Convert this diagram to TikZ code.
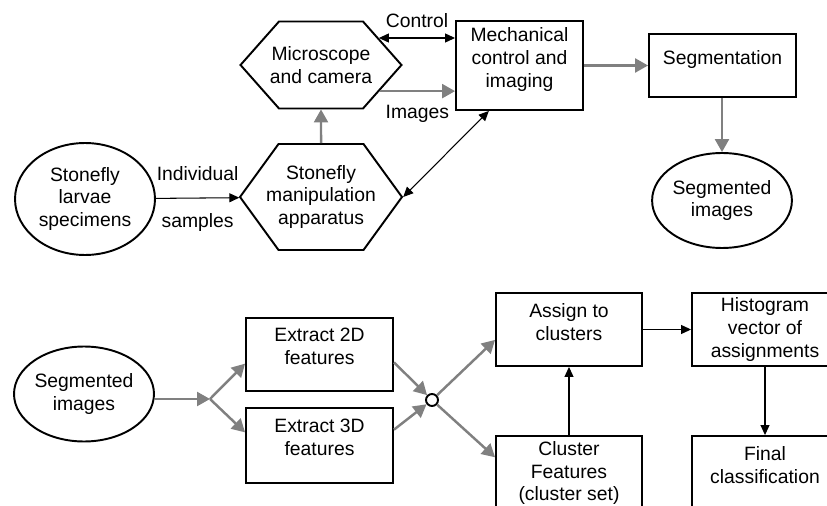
\documentclass[tikz,border=0pt]{standalone}
\usepackage{fontspec}
\setmainfont{Liberation Sans}
\usetikzlibrary{shapes.geometric, shapes.symbols, arrows.meta}
\definecolor{flowgray}{RGB}{128,128,128}
\tikzstyle{specimen} = [ellipse, draw=black, line width=1.1pt, align=center, inner sep=0pt]
\tikzstyle{apparatus} = [signal, signal to=west and east, draw=black, line width=1.1pt, align=center, minimum width=3.22cm, inner xsep=-7pt, inner ysep=1pt]
\tikzstyle{process} = [rectangle, draw=black, line width=1.1pt, align=center, inner sep=1pt]
\tikzstyle{raised} = [text depth=9pt]
\tikzstyle{junction} = [circle, draw=black, line width=1.1pt, fill=white, minimum size=0.24cm, inner sep=0pt]
\tikzstyle{dataflow} = [flowgray, line width=1.4pt, -{Triangle[length=0.26cm, width=0.28cm]}]
\tikzstyle{ctrlflow} = [black, line width=0.6pt, -{Triangle[length=0.2cm, width=0.18cm]}]
\tikzstyle{ctrlboth} = [black, line width=0.6pt, {Triangle[length=0.2cm, width=0.18cm]}-{Triangle[length=0.2cm, width=0.18cm]}]

\begin{document}
\begin{tikzpicture}[x=0.02cm, y=-0.02cm, font=\fontsize{11}{13}\selectfont]
    \clip (0,0) rectangle (827,506);

    \node (larvae) [specimen, minimum width=2.8cm, minimum height=2.24cm] at (85,199) {Stonefly\\larvae\\specimens};
    \node (manip) [apparatus, signal pointer angle=108, minimum height=2.12cm] at (321,197) {Stonefly\\manipulation\\apparatus};
    \node (micro) [apparatus, signal pointer angle=97, minimum height=1.74cm] at (321,65) {Microscope\\and camera};
    \node (mech) [process, raised, minimum width=2.54cm, minimum height=1.78cm] at (519.5,65.5) {Mechanical\\control and\\imaging};
    \node (seg) [process, raised, minimum width=2.94cm, minimum height=1.26cm] at (722.5,65.5) {Segmentation};
    \node (segimg) [specimen, minimum width=2.78cm, minimum height=1.9cm] at (722,200.5) {Segmented\\images};

    \node (segimgb) [specimen, minimum width=2.8cm, minimum height=1.9cm] at (84,394) {Segmented\\images};
    \coordinate (split) at (210,399);
    \node (ext2d) [process, raised, minimum width=2.94cm, minimum height=1.46cm] at (319.5,354.5) {Extract 2D\\features};
    \node (ext3d) [process, raised, minimum width=2.94cm, minimum height=1.5cm] at (319.5,445.5) {Extract 3D\\features};
    \node (join) [junction] at (432,400) {};
    \node (assign) [process, raised, minimum width=2.92cm, minimum height=1.46cm] at (569,329.5) {Assign to\\clusters};
    \node (cluster) [process, minimum width=2.92cm, minimum height=1.48cm] at (569,473) {Cluster\\Features\\(cluster set)};
    \node (hist) [process, minimum width=2.92cm, minimum height=1.46cm] at (765,329.5) {Histogram\\vector of\\assignments};
    \node (final) [process, raised, minimum width=2.92cm, minimum height=1.48cm] at (765,473) {Final\\classification};

    \draw [ctrlflow] (larvae) -- node[above=6pt] {Individual} node[below=5pt] {samples} (manip);
    \draw [dataflow] (manip) -- (micro);
    \draw [ctrlboth] (micro.25) -- node[above=2pt, text=black] {Control} (micro.25 -| mech.west);
    \draw [dataflow] (micro.-24) -- node[below=4pt, text=black] {Images} (micro.-24 -| mech.west);
    \draw [ctrlboth] (manip.east) -- (mech.236);
    \draw [dataflow] (mech) -- (seg);
    \draw [dataflow] (seg.south -| segimg) -- (segimg);

    \draw [dataflow] (segimgb.east |- split) -- (split);
    \draw [dataflow] (split) -- (ext2d.187);
    \draw [dataflow] (split) -- (ext3d.170);
    \draw [dataflow] (ext2d.-6) -- (join);
    \draw [dataflow] (ext3d.12) -- (join);
    \draw [dataflow] (join) -- (assign.188);
    \draw [dataflow] (join) -- (cluster.168);
    \draw [ctrlflow] (cluster) -- (assign);
    \draw [ctrlflow] (assign) -- (hist);
    \draw [ctrlflow] (hist) -- (final);
\end{tikzpicture}
\end{document}
